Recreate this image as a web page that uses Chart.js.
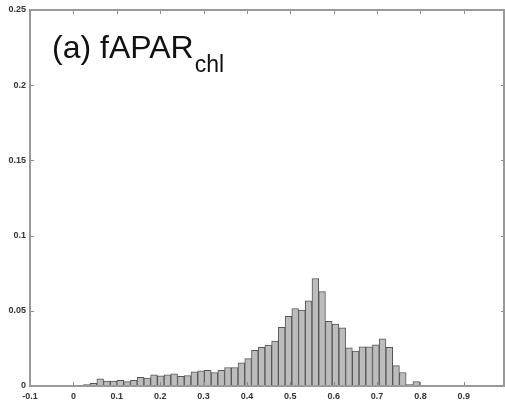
<!DOCTYPE html>
<html>
<head>
<meta charset="utf-8">
<script src="https://cdn.jsdelivr.net/npm/chart.js@4.4.1/dist/chart.umd.min.js"></script>
<style>
  html, body { margin: 0; padding: 0; background: #fff; }
  #wrap { width: 505px; height: 410px; }
</style>
</head>
<body>
<div id="wrap"><canvas id="hist"></canvas></div>
<script>
// bin centres and relative frequencies of fAPAR_chl
const binCenters = [
  0.0308, 0.0463, 0.0618, 0.0773, 0.0928, 0.1083, 0.1238, 0.1393, 0.1548, 0.1703,
  0.1858, 0.2013, 0.2168, 0.2323, 0.2478, 0.2633, 0.2788, 0.2943, 0.3098, 0.3253,
  0.3408, 0.3563, 0.3718, 0.3873, 0.4028, 0.4183, 0.4338, 0.4493, 0.4648, 0.4803,
  0.4958, 0.5113, 0.5268, 0.5423, 0.5578, 0.5733, 0.5888, 0.6043, 0.6198, 0.6353,
  0.6508, 0.6663, 0.6818, 0.6973, 0.7128, 0.7283, 0.7438, 0.7593, 0.7748, 0.7903
];
const freq = [
  0.0010, 0.0017, 0.0048, 0.0033, 0.0033, 0.0037, 0.0029, 0.0037, 0.0057, 0.0053,
  0.0075, 0.0068, 0.0075, 0.0081, 0.0064, 0.0070, 0.0094, 0.0101, 0.0105, 0.0090,
  0.0105, 0.0123, 0.0123, 0.0154, 0.0182, 0.0237, 0.0257, 0.0272, 0.0298, 0.0390,
  0.0463, 0.0515, 0.0504, 0.0566, 0.0715, 0.0627, 0.0430, 0.0412, 0.0386, 0.0254,
  0.0232, 0.0261, 0.0261, 0.0274, 0.0314, 0.0257, 0.0136, 0.0090, 0.0010, 0.0029
];
const xTicks = [-0.1, 0, 0.1, 0.2, 0.3, 0.4, 0.5, 0.6, 0.7, 0.8, 0.9];
const yTicks = [0, 0.05, 0.1, 0.15, 0.2, 0.25];

const tickFont = { family: 'Liberation Sans, Arial, sans-serif', size: 9, weight: 'bold' };

// box round the plot with short inward tick marks on all four sides
const frame = {
  id: 'frame',
  afterDatasetsDraw(chart) {
    const { ctx, chartArea: a, scales } = chart;
    ctx.save();
    ctx.strokeStyle = '#8c8c8c';
    ctx.lineWidth = 1;
    ctx.beginPath();
    xTicks.forEach(v => {
      const px = Math.round(scales.x.getPixelForValue(v)) + 0.5;
      ctx.moveTo(px, a.bottom); ctx.lineTo(px, a.bottom - 4);
      ctx.moveTo(px, a.top); ctx.lineTo(px, a.top + 4);
    });
    yTicks.forEach(v => {
      const py = Math.round(scales.y.getPixelForValue(v)) + 0.5;
      ctx.moveTo(a.left, py); ctx.lineTo(a.left + 4, py);
      ctx.moveTo(a.right, py); ctx.lineTo(a.right - 4, py);
    });
    ctx.stroke();
    ctx.lineWidth = 2;
    ctx.strokeStyle = '#999';
    ctx.strokeRect(a.left, a.top, a.right - a.left - 1, a.bottom - a.top);
    ctx.restore();
  },
  afterDraw(chart) {
    const { ctx } = chart;
    ctx.save();
    ctx.fillStyle = '#111';
    ctx.textBaseline = 'alphabetic';
    ctx.font = '32px "Liberation Sans", Arial, sans-serif';
    const main = '(a) fAPAR';
    ctx.fillText(main, 52, 58);
    const w = ctx.measureText(main).width;
    ctx.font = '23px "Liberation Sans", Arial, sans-serif';
    ctx.fillText('chl', 52 + w + 1, 72);
    ctx.restore();
  }
};

new Chart(document.getElementById('hist'), {
  type: 'bar',
  data: {
    datasets: [{
      data: binCenters.map((c, i) => ({ x: c, y: freq[i] })),
      backgroundColor: '#bcbcbc',
      borderColor: '#555',
      borderWidth: 1,
      barPercentage: 1,
      categoryPercentage: 1
    }]
  },
  options: {
    responsive: true,
    maintainAspectRatio: false,
    animation: false,
    layout: { padding: { top: 10, right: 0, left: 0, bottom: 0 } },
    plugins: { legend: { display: false }, tooltip: { enabled: false } },
    scales: {
      x: {
        type: 'linear',
        offset: false,
        min: -0.1,
        max: 0.995,
        grid: { display: false, drawTicks: false, offset: false },
        border: { display: false },
        afterBuildTicks(scale) { scale.ticks = xTicks.map(v => ({ value: v })); },
        afterFit(scale) { scale.height = 24; },
        ticks: {
          font: tickFont,
          color: '#333',
          padding: 5,
          maxRotation: 0,
          autoSkip: false,
          callback: v => String(Math.round(v * 10) / 10)
        }
      },
      y: {
        min: 0,
        max: 0.25,
        grid: { display: false, drawTicks: false },
        border: { display: false },
        afterBuildTicks(scale) { scale.ticks = yTicks.map(v => ({ value: v })); },
        afterFit(scale) { scale.width = 30; },
        ticks: {
          font: tickFont,
          color: '#333',
          padding: 4,
          autoSkip: false,
          callback: v => String(Math.round(v * 100) / 100)
        }
      }
    }
  },
  plugins: [frame]
});
</script>
</body>
</html>
